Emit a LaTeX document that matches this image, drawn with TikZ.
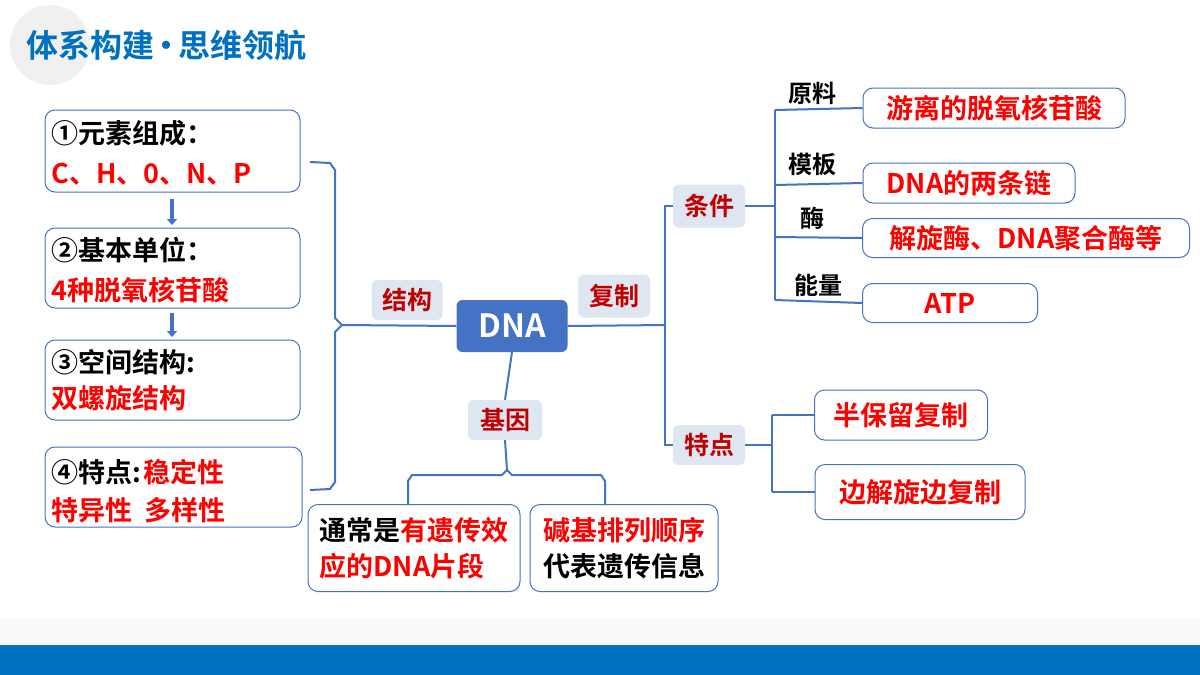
\documentclass[tikz,border=0pt]{standalone}
\usepackage{fontspec}
\setmainfont{Noto Sans CJK SC Bold}
\usetikzlibrary{positioning,arrows.meta}
\definecolor{titleblue}{RGB}{0,112,192}
\definecolor{lineblue}{RGB}{68,114,196}
\definecolor{tagfill}{RGB}{222,230,242}
\definecolor{tagred}{RGB}{192,0,0}
\definecolor{txtred}{RGB}{255,0,0}
\tikzset{
  infobox/.style={draw=lineblue, rounded corners=10pt, line width=1pt, fill=white},
  tagbox/.style={fill=tagfill, rounded corners=6pt, text=tagred, font=\fontsize{25}{28}\selectfont, inner sep=0pt},
  branch/.style={draw=lineblue, line width=2pt},
  leftxt/.style={anchor=west, font=\fontsize{27}{32}\selectfont},
  rightxt/.style={infobox, text=txtred, font=\fontsize{27}{32}\selectfont},
}
\begin{document}
\begin{tikzpicture}[x=1pt,y=-1pt]
    \useasboundingbox (0,0) rectangle (1200,675);
    \fill[white] (0,0) rectangle (1200,675);
    % Titre
    \fill[gray!12] (50,45) circle (40);
    \node[anchor=west, text=titleblue, font=\fontsize{32}{36}\selectfont, inner sep=0pt] (titre) at (26,45) {体系构建\kern-4pt·\kern-4pt思维领航};
    \fill[gray!5] (0,618) rectangle (1200,645);
    \fill[titleblue] (0,645) rectangle (1200,675);

    % Boîtes de gauche
    \draw[infobox] (45,110) rectangle (300,192);
    \node[leftxt] (e1) at (48,133) {①元素组成：};
    \node[leftxt, text=txtred] (e1b) at (48,174) {C、H、0、N、P};
    \draw[infobox] (45,228) rectangle (300,308);
    \node[leftxt] (e2) at (48,250) {②基本单位：};
    \node[leftxt, text=txtred] (e2b) at (48,290) {4种脱氧核苷酸};
    \draw[infobox] (45,340) rectangle (300,420);
    \node[leftxt] (e3) at (48,362) {③空间结构:};
    \node[leftxt, text=txtred] (e3b) at (48,398) {双螺旋结构};
    \draw[infobox] (45,447) rectangle (302,527);
    \node[leftxt] (e4) at (48,472) {④特点:\kern2pt\textcolor{txtred}{稳定性}};
    \node[leftxt, text=txtred] (e4b) at (48,510) {特异性\ \ 多样性};
    \coordinate (a1) at (172,199);
    \coordinate (a2) at (172,225);
    \coordinate (a3) at (172,313);
    \coordinate (a4) at (172,337);
    \draw[-{Triangle[length=6pt,width=10pt]}, lineblue, line width=3.5pt] (a1) -- (a2);
    \draw[-{Triangle[length=6pt,width=10pt]}, lineblue, line width=3.5pt] (a3) -- (a4);

    % Nœud central
    \node[fill=lineblue, rounded corners=6pt, text=white, minimum width=111pt, minimum height=52pt, font=\fontsize{32}{36}\selectfont] (dna) at (512,326) {DNA};
    \node[tagbox, minimum width=71pt, minimum height=40pt] (struct) at (407,300) {结构};
    \node[tagbox, minimum width=72pt, minimum height=43pt] (repl) at (614,296) {复制};
    \node[tagbox, minimum width=74pt, minimum height=40pt] (gene) at (505,420) {基因};
    \node[tagbox, minimum width=72pt, minimum height=43pt] (cond) at (709,206) {条件};
    \node[tagbox, minimum width=72pt, minimum height=40pt] (feat) at (709,445) {特点};

    % Accolade gauche
    \draw[branch] (310,162) -- (330,163) -- (335,170) -- (335,318) -- (342,325) -- (dna.west);
    \draw[branch] (310,490) -- (330,489) -- (335,482) -- (335,332) -- (342,325);

    % Réplication
    \draw[branch] (dna.east) -- (665,325);
    \draw[branch] (cond.west) -- (665,206) -- (665,445) -- (feat.west);
    \draw[branch] (cond.east) -- (775,206);
    \draw[branch] (775,110) -- (775,300);
    \node[rightxt, minimum width=262pt, minimum height=40pt] (r1) at (994,108) {游离的脱氧核苷酸};
    \node[rightxt, minimum width=212pt, minimum height=40pt] (r2) at (969,183) {DNA的两条链};
    \node[rightxt, minimum width=327pt, minimum height=39pt] (r3) at (1026,238) {解旋酶、DNA聚合酶等};
    \node[rightxt, minimum width=175pt, minimum height=39pt] (r4) at (950,303) {ATP};
    \draw[branch] (775,110) -- (r1.west);
    \draw[branch] (775,185) -- (r2.west);
    \draw[branch] (775,237) -- (r3.west);
    \draw[branch] (775,300) -- (r4.west);
    \node[font=\fontsize{24}{28}\selectfont] (l1) at (812,93) {原料};
    \node[font=\fontsize{24}{28}\selectfont] (l2) at (812,164) {模板};
    \node[font=\fontsize{24}{28}\selectfont] (l3) at (812,218) {酶};
    \node[font=\fontsize{24}{28}\selectfont] (l4) at (818,285) {能量};

    \draw[branch] (feat.east) -- (772,445);
    \draw[branch] (772,415) -- (772,492);
    \node[rightxt, minimum width=173pt, minimum height=50pt] (s1) at (901,415) {半保留复制};
    \node[rightxt, minimum width=210pt, minimum height=55pt] (s2) at (920,492) {边解旋边复制};
    \draw[branch] (772,415) -- (s1.west);
    \draw[branch] (772,492) -- (s2.west);

    % Gène
    \draw[branch] (dna.south) -- (gene.north);
    \node[infobox, minimum width=212pt, minimum height=87pt, inner sep=1pt, align=left, font=\fontsize{27}{36}\selectfont] (g1) at (414,548) {通常是\textcolor{txtred}{有遗传效}\\\textcolor{txtred}{应的DNA片段}};
    \node[infobox, minimum width=188pt, minimum height=87pt, inner sep=1pt, align=left, font=\fontsize{27}{36}\selectfont] (g2) at (624,548) {\textcolor{txtred}{碱基排列顺序}\\代表遗传信息};
    \draw[branch] (gene.south) -- (507,470) -- (502,475) -- (412,475) -- (408,481) -- (408,505);
    \draw[branch] (507,470) -- (512,475) -- (601,475) -- (605,481) -- (605,505);
\end{tikzpicture}
\end{document}
